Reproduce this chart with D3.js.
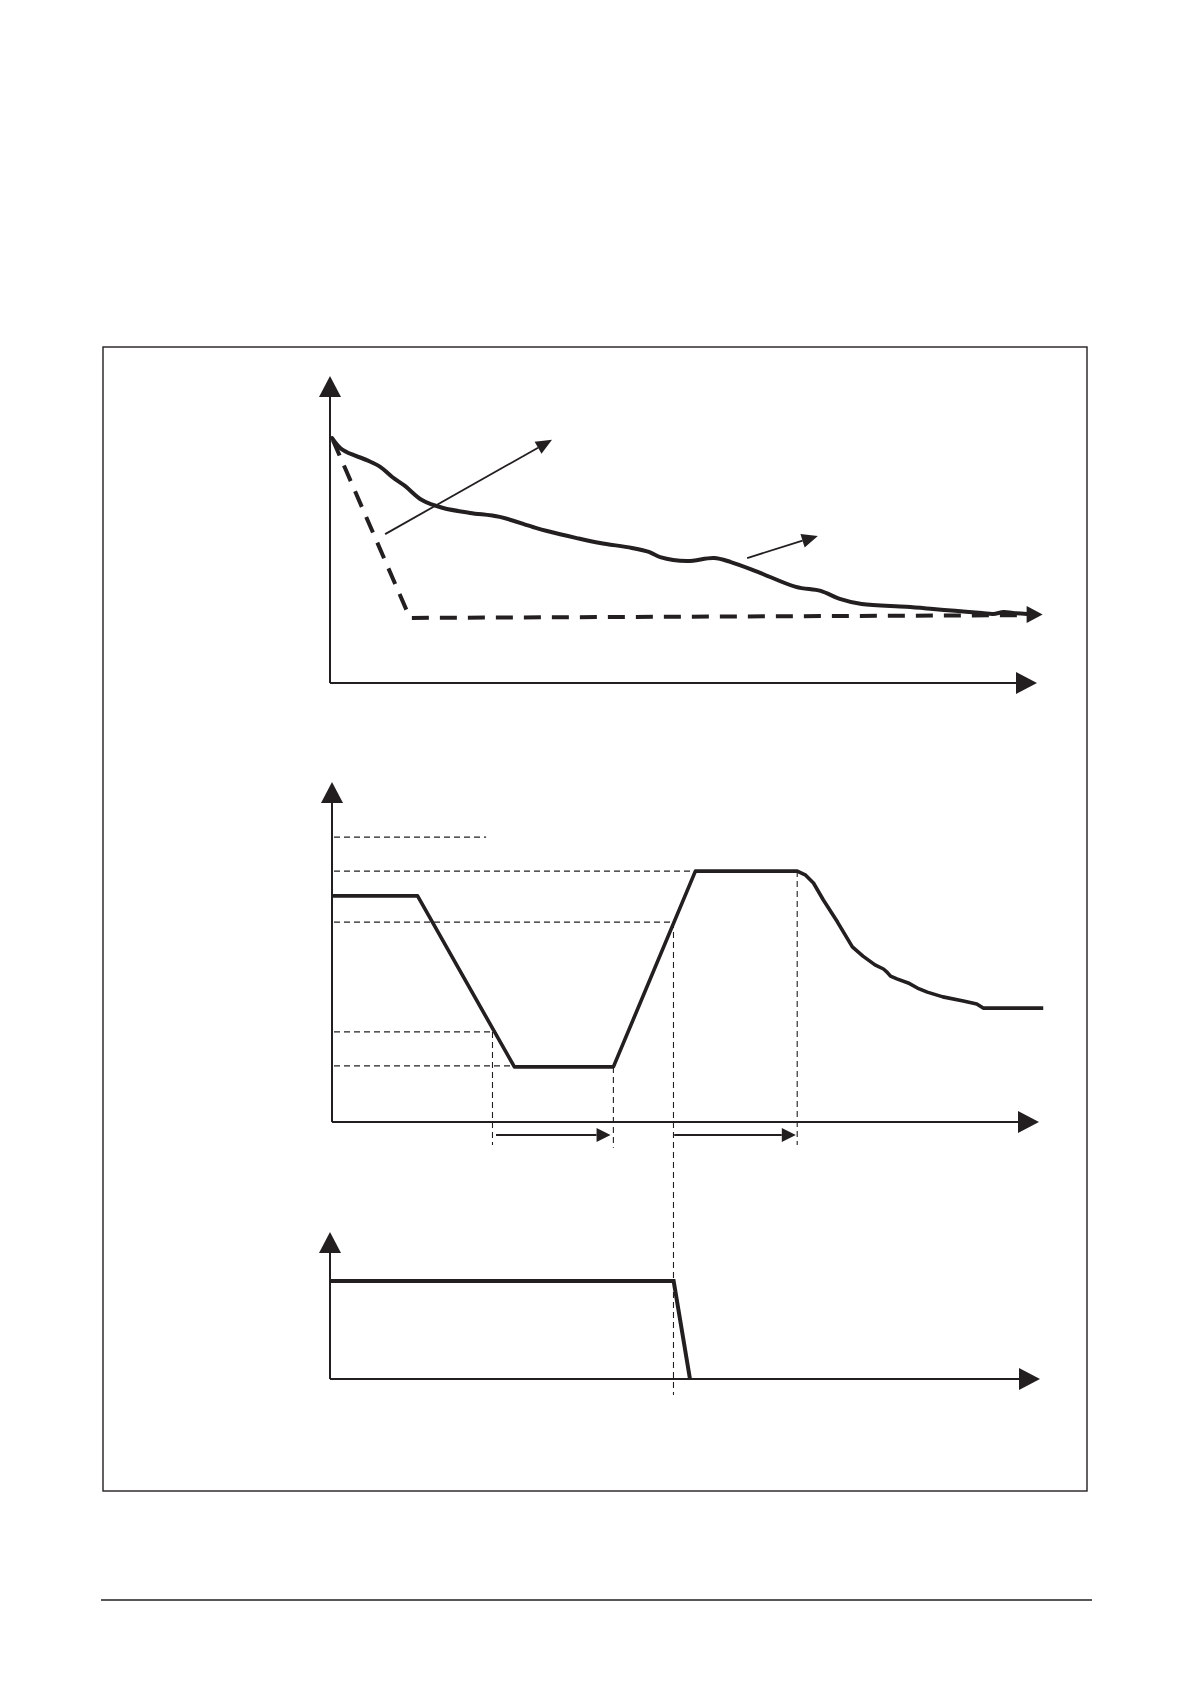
<!DOCTYPE html>
<html><head><meta charset="utf-8">
<script src="https://cdn.jsdelivr.net/npm/d3@7"></script>
<style>body{margin:0;background:#fff}svg{display:block}</style></head>
<body><svg id="c" width="1190" height="1684"></svg>
<script>
// ---------- data (time units 0..100, value units 0..100) ----------
const p1Measured = [[0.3,79.8],[1.8,75.9],[5.2,72.6],[7.1,70.4],[8.8,67.1],[10.6,64.2],[13.0,59.6],[16.0,57.0],[19.8,55.4],[24.0,54.1],[28.7,50.8],[30.7,49.5],[34.9,47.2],[38.2,45.6],[42.7,44.0],[45.1,42.7],[46.7,41.0],[50.5,39.7],[54.3,40.7],[56.7,39.4],[60.5,36.2],[65.9,31.3],[69.4,30.0],[72.1,27.4],[75.2,25.7],[81.5,24.8],[85.3,24.1],[88.4,23.5],[92.2,22.8],[93.8,22.5],[95.3,23.1],[96.6,22.8],[98.6,22.5]];
const p1Ideal = [[0.4,79.2],[11.3,21.2],[98.6,22.1]];
const p1EndTip = [100.8,22.3];
const p1Arrow1 = [[7.8,48.5],[31.4,79.2]];
const p1Arrow2 = [[59.0,40.7],[69.0,47.9]];

const p2Curve = [[0,66.5],[12.1,66.5],[25.8,16.2],[39.8,16.2],[51.4,73.8],[65.8,73.8],[67.0,72.6],[68.1,70.3],[69.5,65.3],[71.5,58.8],[73.6,51.5],[75.1,48.8],[76.8,46.2],[78.0,45.0],[78.5,44.1],[79.0,42.9],[79.9,42.1],[81.5,40.9],[82.8,39.4],[84.2,38.2],[86.4,36.8],[89.3,35.6],[91.2,34.7],[92.1,33.5],[100.6,33.5]];
const p2LevelValues = [83.8,73.8,58.8,26.5,16.5];
const p2LevelEnds   = [21.8,51.4,48.3,22.7,25.8];
const p2MarkTimes = [22.7,39.8,65.8];
const p2MarkFrom  = [26.5,16.2,73.8];
const p2MarkTo    = [-6.8,-7.6,-6.8];
const p2SpanStart = [23.2,48.4];
const p2SpanEnd   = [39.4,65.6];
const p2SpanValue = -3.8;
const crossTime = 48.3, crossFrom = 58.8, crossTo = -10.9;

const p3Curve = [[0,66.7],[48.4,66.7],[50.7,0]];

// ---------- layout ----------
const svg = d3.select('#c');
const ink = '#231f20';
const x1 = d3.scaleLinear().domain([0,100]).range([330,1037]);
const y1 = d3.scaleLinear().domain([0,100]).range([683,376]);
const x2 = d3.scaleLinear().domain([0,100]).range([332,1039]);
const y2 = d3.scaleLinear().domain([0,100]).range([1122,782]);
const x3 = d3.scaleLinear().domain([0,100]).range([330,1040]);
const y3 = d3.scaleLinear().domain([0,100]).range([1379,1232]);

// frame and page rule
svg.append('rect').attr('x',103).attr('y',347).attr('width',984).attr('height',1144)
  .attr('fill','none').attr('stroke',ink).attr('stroke-width',1.4);
svg.append('line').attr('x1',101).attr('x2',1092).attr('y1',1600).attr('y2',1600)
  .attr('stroke',ink).attr('stroke-width',1.6);

function head(g, from, tip, len, hw){
  const dx = tip[0]-from[0], dy = tip[1]-from[1], d = Math.hypot(dx,dy);
  const ux = dx/d, uy = dy/d, bx = tip[0]-ux*len, by = tip[1]-uy*len;
  g.append('path').attr('d', `M${tip[0]},${tip[1]}L${bx-uy*hw},${by+ux*hw}L${bx+uy*hw},${by-ux*hw}Z`)
    .attr('fill',ink);
  return [bx,by];
}
function arrowLine(g, a, b, w, len, hw){
  const base = head(g, a, b, len, hw);
  g.append('line').attr('x1',a[0]).attr('y1',a[1]).attr('x2',base[0]).attr('y2',base[1])
    .attr('stroke',ink).attr('stroke-width',w);
}
function axes(g, xs, ys){
  arrowLine(g, [xs(0),ys(0)], [xs(0),ys(100)], 2, 21, 11);
  arrowLine(g, [xs(0),ys(0)], [xs(100),ys(0)], 2, 21, 11);
}
const lineGen = (xs,ys)=>d3.line().x(d=>xs(d[0])).y(d=>ys(d[1])).curve(d3.curveLinear);

// ---------- panel 1 ----------
const g1 = svg.append('g');
axes(g1, x1, y1);
g1.append('path').datum(p1Ideal).attr('d', lineGen(x1,y1)).attr('fill','none')
  .attr('stroke',ink).attr('stroke-width',4).attr('stroke-dasharray','17,11');
g1.append('path').datum(p1Measured).attr('d', lineGen(x1,y1).curve(d3.curveCatmullRom)).attr('fill','none')
  .attr('stroke',ink).attr('stroke-width',4).attr('stroke-linejoin','round').attr('stroke-linecap','round');
head(g1, [x1(p1Measured[p1Measured.length-1][0]), y1(p1EndTip[1])], [x1(p1EndTip[0]), y1(p1EndTip[1])], 16, 8.5);
[p1Arrow1, p1Arrow2].forEach(a=>{
  arrowLine(g1, [x1(a[0][0]),y1(a[0][1])], [x1(a[1][0]),y1(a[1][1])], 1.8, 16, 7);
});

// ---------- panel 2 ----------
const g2 = svg.append('g');
axes(g2, x2, y2);
const guide = sel => sel.attr('stroke',ink).attr('stroke-width',1.1).attr('stroke-dasharray','6,4').attr('fill','none');
p2LevelValues.forEach((v,i)=>{
  g2.append('line').attr('x1',x2(0)+2).attr('x2',x2(p2LevelEnds[i]))
    .attr('y1',y2(v)).attr('y2',y2(v)).call(guide);
});
p2MarkTimes.forEach((t,i)=>{
  g2.append('line').attr('x1',x2(t)).attr('x2',x2(t))
    .attr('y1',y2(p2MarkFrom[i])).attr('y2',y2(p2MarkTo[i])).call(guide);
});
g2.append('line').attr('x1',x2(crossTime)).attr('x2',x2(crossTime))
  .attr('y1',y2(crossFrom)).attr('y2',y3(crossTo)).call(guide);
g2.append('path').datum(p2Curve).attr('d', lineGen(x2,y2)).attr('fill','none')
  .attr('stroke',ink).attr('stroke-width',3.6).attr('stroke-linejoin','round');
p2SpanStart.forEach((s,i)=>{
  arrowLine(g2, [x2(s),y2(p2SpanValue)], [x2(p2SpanEnd[i]),y2(p2SpanValue)], 2, 14, 7);
});

// ---------- panel 3 ----------
const g3 = svg.append('g');
axes(g3, x3, y3);
g3.append('path').datum(p3Curve).attr('d', lineGen(x3,y3)).attr('fill','none')
  .attr('stroke',ink).attr('stroke-width',4).attr('stroke-linejoin','miter');
</script>
</body></html>
